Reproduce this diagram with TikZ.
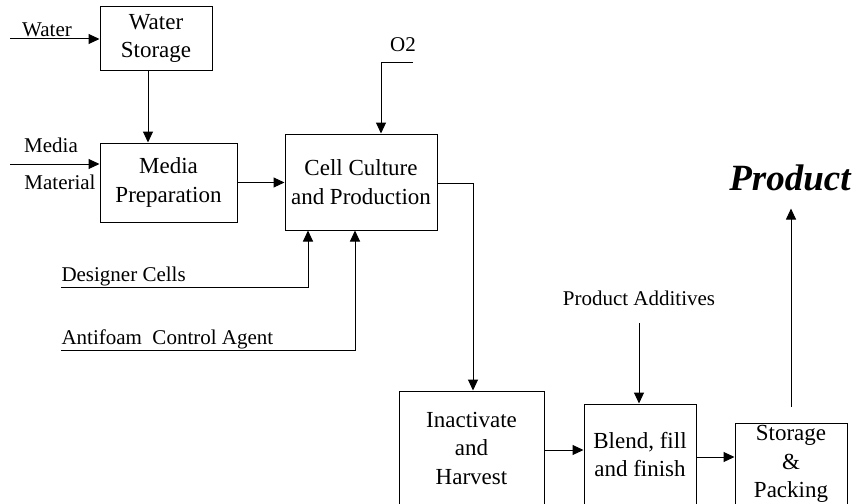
\documentclass[tikz,border=0pt]{standalone}
\usepackage{fontspec}
\setmainfont{Liberation Serif}
\usetikzlibrary{arrows.meta}
\begin{document}
\begin{tikzpicture}[x=1pt,y=-1pt,
  line width=1pt,
  box/.style={draw, line width=1pt, inner sep=0pt, align=center,
    font=\fontsize{23}{28.5}\selectfont},
  lbl/.style={inner sep=0pt, font=\fontsize{21}{25}\selectfont},
  arr/.style={-{Triangle[length=11pt,width=10pt]}}]
\useasboundingbox (0,0) rectangle (856,503);

% process boxes
\node[box, minimum width=112pt, minimum height=63pt] (ws) at (156,38.5) {Water\\Storage};
\node[box, minimum width=137pt, minimum height=79pt] (mp) at (168.5,182.5) {Media\\Preparation};
\node[box, minimum width=152pt, minimum height=96pt] (cc) at (361,182) {Cell Culture\\and Production};
\node[box, minimum width=145pt, minimum height=114pt] (ih) at (471.5,448) {Inactivate\\and\\Harvest};
\node[box, minimum width=112pt, minimum height=101pt] (bf) at (640,454.5) {Blend, fill\\and finish};
\node[box, minimum width=112pt, minimum height=82pt] (sp) at (791,464) {Storage\\\&\\Packing};

% input labels
\node[lbl] (lw) at (47,30) {Water};
\node[lbl] (lm1) at (51,145) {Media};
\node[lbl] (lm2) at (60,182) {Material};
\node[lbl] (lo2) at (403,45) {O2};
\node[lbl, anchor=west] (ld) at (61,276) {Designer Cells};
\node[lbl, anchor=west] (la) at (61,339) {Antifoam\ \ Control Agent};
\node[lbl] (pa) at (639,298) {Product Additives};
\node[inner sep=0pt, font=\fontsize{37}{44}\selectfont\bfseries\itshape] (prod) at (790,178) {Product};

% free ends of the feed lines
\coordinate (w0) at (10,39);
\coordinate (m0) at (10,164);
\coordinate (o0) at (413,63);
\coordinate (d0) at (61,287);
\coordinate (a0) at (61,350);

% connectors
\draw[arr] (w0) -- (w0 -| ws.west);
\draw[arr] ([xshift=-8pt]ws.south) -- ([xshift=-8pt]ws.south |- mp.north);
\draw[arr] (m0) -- (m0 -| mp.west);
\draw[arr] (mp.east) -- (mp.east -| cc.west);
\draw[arr] (o0) -| ([xshift=20pt]cc.north);
\draw[arr] (d0) -| ([xshift=-53pt]cc.south);
\draw[arr] (a0) -| ([xshift=-6pt]cc.south);
\draw[arr] ([yshift=-1pt]cc.east) -| ([xshift=1.5pt]ih.north);
\draw[arr] ([yshift=-2pt]ih.east) -- ([yshift=-2pt]ih.east -| bf.west);
\draw[arr] ([yshift=-2.5pt]bf.east) -- ([yshift=-2.5pt]bf.east -| sp.west);
\draw[arr] ([yshift=-17pt]pa.south) -- ([xshift=-1pt]bf.north);
\draw[arr] ([yshift=16pt]sp.north) -- ([yshift=-17pt]sp.north |- prod.south);
\end{tikzpicture}
\end{document}
